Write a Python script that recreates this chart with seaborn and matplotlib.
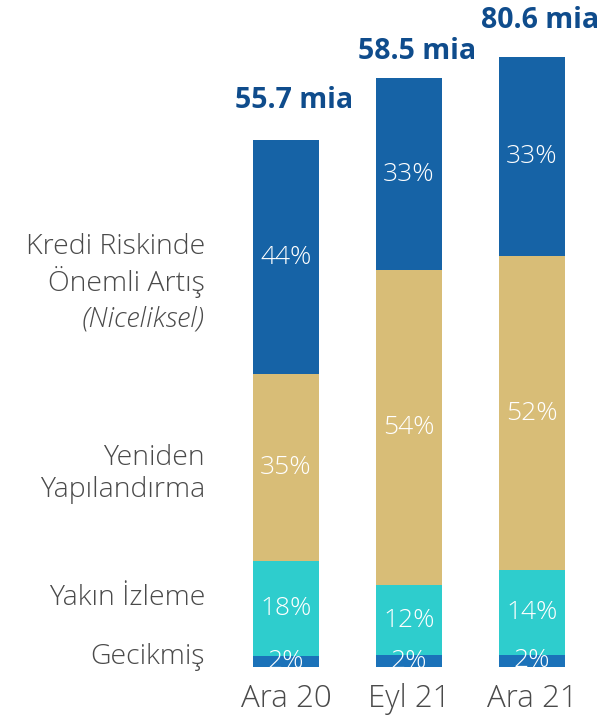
import numpy as np
import pandas as pd
import matplotlib
matplotlib.use("Agg")
import matplotlib.pyplot as plt
import seaborn as sns

# ---------------- data ----------------
periods = ["Ara 20", "Eyl 21", "Ara 21"]
totals = ["55.7 mia", "58.5 mia", "80.6 mia"]
# share of each stage (bottom -> top)
gecikmis = [2, 2, 2]
yakin_izleme = [18, 12, 14]
yeniden = [35, 54, 52]
kredi_riski = [44, 33, 33]
# relative visual height of each bar (as drawn in the source)
bar_rel = [1.0, 1.118, 1.157]

categories = ["Gecikmiş", "Yakın İzleme", "Yeniden\nYapılandırma",
              "Kredi Riskinde\nÖnemli Artış"]

# ---------------- style ----------------
sns.set_theme(style="white")
plt.rcParams["font.family"] = ["Open Sans", "DejaVu Sans"]

colors = ["#1b72b9", "#2ecdcd", "#d8bd77", "#1663a6"]
label_color = "#4a4a4a"
total_color = "#0f4c8c"
LW = "light"

W, H = 599, 718
fig = plt.figure(figsize=(W / 100, H / 100), dpi=100)
ax = fig.add_axes([0, 0, 1, 1])

base_px = 667.0      # pixel row of bar bottoms
scale_px = 527.0     # pixels per unit height
spacing_px = 123.0
x0_px = 286.0
bar_w_px = 66.0
total_gap_px = [40, 26, 37]   # label centre distance above bar top

layers = [gecikmis, yakin_izleme, yeniden, kredi_riski]
layers_arr = np.array(layers, dtype=float)
norm = layers_arr / layers_arr.sum(axis=0) * np.array(bar_rel)

bottoms = np.zeros(3)
for i, (vals, col) in enumerate(zip(norm, colors)):
    df = pd.DataFrame({"period": periods, "value": vals})
    sns.barplot(data=df, x="period", y="value", color=col, ax=ax,
                width=bar_w_px / spacing_px, bottom=bottoms,
                saturation=1, linewidth=0, order=periods)
    for j in range(3):
        yc = bottoms[j] + vals[j] / 2
        ax.text(j, yc, f"{layers[i][j]}%", ha="center", va="center",
                color="white", fontsize=19, fontweight=LW)
    bottoms = bottoms + vals

# totals above bars
for j in range(3):
    ax.annotate(totals[j], (j, bottoms[j]), xytext=(8, total_gap_px[j]),
                textcoords="offset pixels", ha="center", va="center",
                color=total_color, fontsize=20.5, fontweight="bold")

# axes limits so that data maps to the source pixel layout
ax.set_xlim(-x0_px / spacing_px, (W - x0_px) / spacing_px)
ax.set_ylim(-(H - base_px) / scale_px, base_px / scale_px)
ax.set_axis_off()

def px_to_y(py):
    return (base_px - py) / scale_px

# x tick labels
for j, p in enumerate(periods):
    ax.text(j, px_to_y(699), p, ha="center", va="center",
            color=label_color, fontsize=22.5, fontweight=LW)

# category labels on the left
FS = 20.5
xl = -(x0_px - 205) / spacing_px
ax.text(xl, px_to_y(657), categories[0], ha="right", va="center",
        color=label_color, fontsize=FS, fontweight=LW)
ax.text(xl, px_to_y(598), categories[1], ha="right", va="center",
        color=label_color, fontsize=FS, fontweight=LW)
ax.text(xl, px_to_y(474), categories[2], ha="right", va="center",
        color=label_color, fontsize=FS, fontweight=LW, linespacing=1.2)
ax.text(xl, px_to_y(266), categories[3], ha="right", va="center",
        color=label_color, fontsize=FS, fontweight=LW, linespacing=1.2)
ax.text(xl, px_to_y(319), "(Niceliksel)", ha="right", va="center",
        color=label_color, fontsize=FS, fontweight=LW, style="italic")

fig.savefig("out.png", dpi=100)
